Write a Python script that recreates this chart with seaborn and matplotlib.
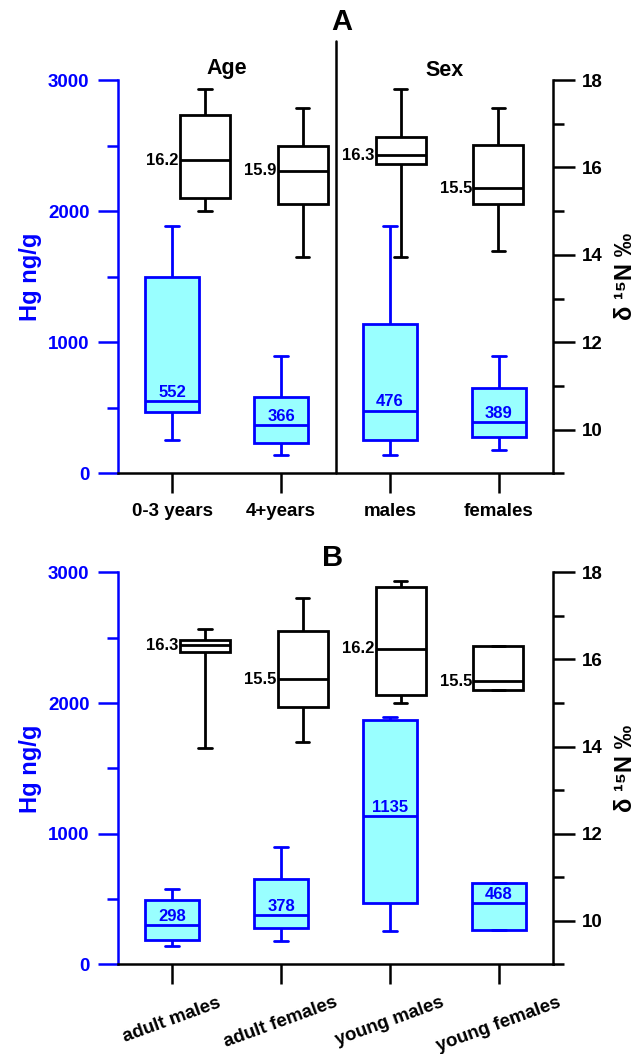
import numpy as np
import pandas as pd
import matplotlib
matplotlib.use('Agg')
import matplotlib.pyplot as plt
import matplotlib.transforms as mtransforms
from matplotlib.ticker import MultipleLocator
import seaborn as sns

# panel A: age / sex groups
groups_a = ['0-3 years', '4+years', 'males', 'females']
hg_a_min = [254, 137, 140, 178]
hg_a_q1 = [470, 229, 254, 279]
hg_a_med = [552, 366, 476, 389]
hg_a_q3 = [1495, 580, 1139, 648]
hg_a_max = [1889, 897, 1886, 895]

n15_a_min = [15.00, 13.95, 13.95, 14.09]
n15_a_q1 = [15.31, 15.16, 16.07, 15.17]
n15_a_med = [16.17, 15.92, 16.28, 15.52]
n15_a_q3 = [17.20, 16.50, 16.70, 16.51]
n15_a_max = [17.79, 17.37, 17.79, 17.37]

# panel B: age x sex
groups_b = ['adult males', 'adult females', 'young males', 'young females']
hg_b_min = [138, 176, 255, 267]
hg_b_q1 = [183, 278, 469, 267]
hg_b_med = [298, 378, 1135, 468]
hg_b_q3 = [489, 655, 1873, 622]
hg_b_max = [579, 902, 1891, 622]

n15_b_min = [13.97, 14.10, 15.01, 15.30]
n15_b_q1 = [16.16, 14.92, 15.19, 15.30]
n15_b_med = [16.33, 15.54, 16.24, 15.50]
n15_b_q3 = [16.45, 16.66, 17.66, 16.32]
n15_b_max = [16.71, 17.40, 17.79, 16.32]

BLUE = '#0000ff'
CYAN = '#99ffff'

sns.set_theme(style='ticks')
plt.rcParams['font.family'] = ['Liberation Sans', 'DejaVu Sans']
plt.rcParams['font.weight'] = 'bold'
plt.rcParams['text.color'] = 'black'
plt.rcParams['axes.labelcolor'] = 'black'
plt.rcParams['xtick.color'] = 'black'
plt.rcParams['ytick.color'] = 'black'


def long_table(groups, lo, q1, med, q3, hi):
    # five numbers per group -> quartiles come out exactly with whis=(0, 100)
    rows = []
    for g, *vals in zip(groups, lo, q1, med, q3, hi):
        for v in vals:
            rows.append((g, v))
    return pd.DataFrame(rows, columns=['group', 'value'])


def shrink_caps(ax, half):
    for c in ax.containers:
        for cap in getattr(c, 'caps', []):
            x = np.asarray(cap.get_xdata(), float)
            mid = x.mean()
            cap.set_xdata([mid - half, mid + half])


def draw_panel(fig, rect, groups, hg, n15, rotate=0, xsize=13):
    ax = fig.add_axes(rect, label='hg')
    ax2 = fig.add_axes(rect, label='n15')
    ax2.patch.set_visible(False)

    df_hg = long_table(groups, *hg)
    df_n = long_table(groups, *n15)

    sns.boxplot(data=df_hg, x='group', y='value', order=groups, ax=ax,
                width=0.5, color=CYAN, linecolor=BLUE, linewidth=2,
                whis=(0, 100), showfliers=False, saturation=1)
    sns.boxplot(data=df_n, x='group', y='value', order=groups, ax=ax2,
                width=0.51, color='white', linecolor='black', linewidth=2,
                whis=(0, 100), showfliers=False, saturation=1)
    shrink_caps(ax, 0.065)
    shrink_caps(ax2, 0.068)

    ax.set_xlim(-0.5, 3.5)
    ax.set_ylim(0, 3000)
    ax2.set_xlim(-0.89, 3.56)
    ax2.set_ylim(9, 18)

    # left axis (Hg)
    ax.set_xlabel('')
    ax.set_ylabel('Hg ng/g', color=BLUE, fontsize=17, fontweight='bold')
    ax.yaxis.set_label_coords(-0.175, 0.5)
    ax.yaxis.set_major_locator(MultipleLocator(1000))
    ax.yaxis.set_minor_locator(MultipleLocator(500))
    ax.tick_params(axis='y', which='major', length=14.5, width=1.8,
                   colors=BLUE, labelsize=13.5, pad=6)
    ax.tick_params(axis='y', which='minor', length=8, width=1.8, colors=BLUE)
    ax.tick_params(axis='x', length=14.5, width=1.8, colors='black',
                   labelsize=xsize, pad=7)
    for lab in ax.get_xticklabels():
        lab.set_fontweight('bold')
        lab.set_rotation(rotate)
    for lab in ax.get_yticklabels():
        lab.set_fontweight('bold')
    ax.spines['left'].set_color(BLUE)
    ax.spines['left'].set_linewidth(1.8)
    ax.spines['bottom'].set_color('black')
    ax.spines['bottom'].set_linewidth(1.8)
    ax.spines['top'].set_visible(False)
    ax.spines['right'].set_visible(False)

    # right axis (d15N)
    ax2.xaxis.set_visible(False)
    for s in ['left', 'top', 'bottom']:
        ax2.spines[s].set_visible(False)
    ax2.spines['right'].set_visible(True)
    ax2.spines['right'].set_color('black')
    ax2.spines['right'].set_linewidth(1.8)
    ax2.yaxis.tick_right()
    ax2.yaxis.set_major_locator(MultipleLocator(2))
    ax2.yaxis.set_minor_locator(MultipleLocator(1))
    ax2.tick_params(axis='y', which='major', length=15.5, width=1.8,
                    colors='black', labelsize=13.5, pad=5)
    ax2.tick_params(axis='y', which='minor', length=8, width=1.8, colors='black')
    for lab in ax2.get_yticklabels():
        lab.set_fontweight('bold')
    ax2.set_xlabel('')
    ax2.set_ylabel('')
    ax2.text(1.165, 0.5, 'δ ¹⁵N ‰', transform=ax2.transAxes, rotation=90,
             ha='center', va='center', fontsize=17, fontweight='bold',
             family=['Liberation Sans', 'DejaVu Sans'])

    # median labels
    for i, m in enumerate(hg[2]):
        ax.annotate(f'{m:.0f}', (i, m), xytext=(0, 1), textcoords='offset points',
                    ha='center', va='bottom', color=BLUE, fontsize=12,
                    fontweight='bold')
    for i, m in enumerate(n15[2]):
        ax2.annotate(f'{m:.1f}', (i - 0.255, m), xytext=(-1, 0),
                     textcoords='offset points', ha='right', va='center',
                     color='black', fontsize=12, fontweight='bold')
    return ax, ax2


fig = plt.figure(figsize=(6.44, 10.54), dpi=100)

ax_a, ax_a2 = draw_panel(fig, [0.183, 0.551, 0.676, 0.373], groups_a,
                         (hg_a_min, hg_a_q1, hg_a_med, hg_a_q3, hg_a_max),
                         (n15_a_min, n15_a_q1, n15_a_med, n15_a_q3, n15_a_max),
                         xsize=13.5)
ax_b, ax_b2 = draw_panel(fig, [0.183, 0.085, 0.676, 0.372], groups_b,
                         (hg_b_min, hg_b_q1, hg_b_med, hg_b_q3, hg_b_max),
                         (n15_b_min, n15_b_q1, n15_b_med, n15_b_q3, n15_b_max),
                         rotate=20, xsize=13.5)

# divider between Age and Sex groups in panel A
ax_a.axvline(1.5, ymin=0, ymax=1.10, color='black', lw=1.8, clip_on=False)
trans = mtransforms.blended_transform_factory(ax_a.transData, ax_a.transAxes)
ax_a.text(0.5, 1.03, 'Age', transform=trans, ha='center', va='center',
          fontsize=15.5, fontweight='bold')
ax_a.text(2.5, 1.025, 'Sex', transform=trans, ha='center', va='center',
          fontsize=15.5, fontweight='bold')

fig.text(342 / 644, 1 - 22 / 1054, 'A', ha='center', va='center',
         fontsize=21, fontweight='bold')
fig.text(333 / 644, 1 - 558 / 1054, 'B', ha='center', va='center',
         fontsize=21, fontweight='bold')

fig.savefig('out.png', dpi=100)
